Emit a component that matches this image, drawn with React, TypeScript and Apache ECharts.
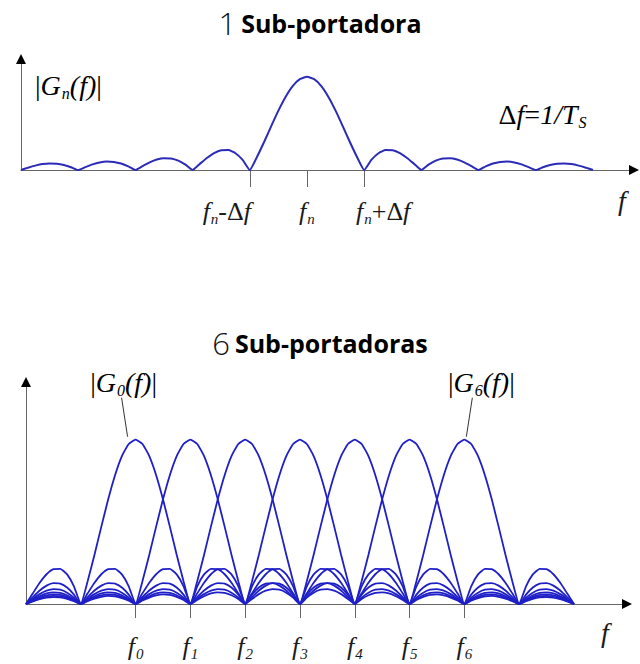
import { useEffect, useRef } from 'react';
import * as echarts from 'echarts';

// |sin(pi x)/(pi x)| magnitude of one sub-carrier pulse, sampled every PULSE_STEP (in units of Δf),
// from the centre (x = 0) out to the 8th null (x = 8).
const PULSE_STEP = 0.125;
const pulseMagnitude = [
  1, 0.974, 0.9, 0.784, 0.637, 0.471, 0.3, 0.139,
  0, 0.108, 0.18, 0.214, 0.212, 0.181, 0.129, 0.065,
  0, 0.057, 0.1, 0.124, 0.127, 0.112, 0.082, 0.042,
  0, 0.039, 0.069, 0.087, 0.091, 0.081, 0.06, 0.031,
  0, 0.03, 0.053, 0.067, 0.071, 0.064, 0.047, 0.025,
  0, 0.024, 0.043, 0.055, 0.058, 0.052, 0.039, 0.021,
  0, 0.02, 0.036, 0.046, 0.049, 0.044, 0.033, 0.018,
  0, 0.017, 0.031, 0.04, 0.042, 0.039, 0.029, 0.016,
  0,
];

// Single sub-carrier panel (frequency in units of Δf around f_n)
const singleSpan = [-5, 5];
const singleAxisMax = 5.7;
const singleAmpMax = 1.18;
const singleTicks = [-1, 0, 1];

// Multi sub-carrier panel (frequency in units of Δf from f_0)
const subcarriers = [0, 1, 2, 3, 4, 5, 6];
const multiSpan = [-2, 8];
const multiAxisMax = 8.95;
const multiAmpMax = 1.345;

const SERIF = '"Liberation Serif", "Times New Roman", serif';
const SANS = '"Open Sans", "Noto Sans", sans-serif';
const INK = '#1a1a1a';
const AXIS = '#666';
const TOP_CURVE = '#2b2bb8';
const MULTI_CURVE = '#1f1fc8';

function pulse(center: number, lo: number, hi: number): number[][] {
  const pts: number[][] = [];
  const n = pulseMagnitude.length - 1;
  for (let i = -n; i <= n; i++) {
    const f = center + i * PULSE_STEP;
    if (f < lo - 1e-9 || f > hi + 1e-9) continue;
    pts.push([f, pulseMagnitude[Math.abs(i)]]);
  }
  return pts;
}

function mathRich(size: number) {
  const sub = Math.round(size * 0.58);
  return {
    i: { fontFamily: SERIF, fontStyle: 'italic', fontSize: size, lineHeight: size + 4, color: INK },
    u: { fontFamily: SERIF, fontSize: size, lineHeight: size + 4, color: INK },
    s: {
      fontFamily: SERIF, fontStyle: 'italic', fontSize: sub, lineHeight: sub + 1,
      verticalAlign: 'bottom', color: INK, padding: [0, 0, 0, 1],
    },
    gl: { width: 46, fontSize: 4 },
    gr: { width: 38, fontSize: 4 },
  };
}

const singleTickText: Record<string, string> = {
  '-1': '{i|f}{s|n}{u|-Δ}{i|f}{gl| }',
  '0': '{i|f}{s|n}',
  '1': '{gr| }{i|f}{s|n}{u|+Δ}{i|f}',
};

const titleRich = {
  n: { fontFamily: SANS, fontWeight: 300, fontSize: 31, color: '#111' },
  b: { fontFamily: SANS, fontWeight: 'bold', fontSize: 25, color: '#000' },
};

const plainLine = { show: true, onZero: false, lineStyle: { color: AXIS, width: 1 } };

// Filled arrow head; (x, y) is where the axis line ends, dir 'x' points right, 'y' points up
function arrowHead(p: number[], dir: 'x' | 'y') {
  const [x, y] = p;
  const points = dir === 'x'
    ? [[x - 4, y - 5], [x + 6, y], [x - 4, y + 5]]
    : [[x - 5, y + 4], [x, y - 6], [x + 5, y + 4]];
  return { type: 'polygon', shape: { points }, style: { fill: '#000' }, z: 10 };
}

export default function App() {
  const ref = useRef<HTMLDivElement>(null);

  useEffect(() => {
    if (!ref.current) return;
    const chart = echarts.init(ref.current, null, { renderer: 'svg' });

    const multiSeries = subcarriers.map((k) => ({
      type: 'line',
      name: `G${k}`,
      xAxisIndex: 1,
      yAxisIndex: 1,
      data: pulse(k, multiSpan[0], multiSpan[1]),
      showSymbol: false,
      smooth: 0.15,
      lineStyle: { color: MULTI_CURVE, width: 1.8 },
      z: 3,
    }));

    chart.setOption({
      animation: false,
      backgroundColor: '#fff',
      title: [
        { text: '{n|1} {b|Sub-portadora}', left: 'center', top: 2, textStyle: { rich: titleRich } },
        { text: '{n|6} {b|Sub-portadoras}', left: 'center', top: 322, textStyle: { rich: titleRich } },
      ],
      grid: [
        { left: 21, top: 60, width: 612, height: 110, outerBoundsMode: 'none' },
        { left: 26, top: 383, width: 600, height: 221, outerBoundsMode: 'none' },
      ],
      xAxis: [
        {
          type: 'value', gridIndex: 0, min: -5, max: singleAxisMax,
          axisLine: plainLine,
          axisTick: { show: true, customValues: singleTicks, length: 17, lineStyle: { color: AXIS } },
          axisLabel: {
            show: true, customValues: singleTicks, margin: 26,
            formatter: (v: number) => singleTickText[String(v)] ?? '',
            rich: mathRich(26),
          },
          splitLine: { show: false },
        },
        {
          type: 'value', gridIndex: 1, min: -2, max: multiAxisMax,
          axisLine: plainLine,
          axisTick: { show: true, customValues: subcarriers, length: 14, lineStyle: { color: AXIS } },
          axisLabel: {
            show: true, customValues: subcarriers, margin: 27,
            formatter: (v: number) => `{i|f}{s|${v}}`,
            rich: mathRich(26),
          },
          splitLine: { show: false },
        },
      ],
      yAxis: [
        {
          type: 'value', gridIndex: 0, min: 0, max: singleAmpMax,
          axisLine: plainLine, axisTick: { show: false }, axisLabel: { show: false },
          splitLine: { show: false },
        },
        {
          type: 'value', gridIndex: 1, min: 0, max: multiAmpMax,
          axisLine: plainLine, axisTick: { show: false }, axisLabel: { show: false },
          splitLine: { show: false },
        },
      ],
      series: [
        {
          type: 'line',
          name: 'Gn',
          xAxisIndex: 0,
          yAxisIndex: 0,
          data: pulse(0, singleSpan[0], singleSpan[1]),
          showSymbol: false,
          smooth: 0.15,
          lineStyle: { color: TOP_CURVE, width: 2 },
          z: 3,
        },
        ...multiSeries,
      ],
    });

    // Annotations anchored to the curves and axes through the axes' own scales
    const px = (grid: number, v: number[]) => chart.convertToPixel({ gridIndex: grid }, v) as number[];
    const gnOrigin = px(0, [-5, 1]);
    const dfAnchor = px(0, [3.35, 0.6]);
    const topXEnd = px(0, [singleAxisMax, 0]);
    const topYEnd = px(0, [-5, singleAmpMax]);
    const bottomXEnd = px(1, [multiAxisMax, 0]);
    const bottomYEnd = px(1, [-2, multiAmpMax]);
    const g0Peak = px(1, [subcarriers[0], 1]);
    const g6Peak = px(1, [subcarriers[subcarriers.length - 1], 1]);
    const labelRich = mathRich(28);
    const axisNameStyle = {
      text: 'f', fontFamily: SERIF, fontStyle: 'italic', fontSize: 28, fill: INK,
      align: 'center', verticalAlign: 'middle',
    };

    chart.setOption({
      graphic: [
        arrowHead(topXEnd, 'x'),
        arrowHead(topYEnd, 'y'),
        arrowHead(bottomXEnd, 'x'),
        arrowHead(bottomYEnd, 'y'),
        {
          type: 'text', x: gnOrigin[0] + 14, y: gnOrigin[1] + 9,
          style: { text: '{u||}{i|G}{s|n}{i|(f)}{u||}', rich: labelRich, verticalAlign: 'middle' },
        },
        {
          type: 'text', x: dfAnchor[0], y: dfAnchor[1],
          style: { text: '{u|Δ}{i|f}{u|=}{i|1/T}{s|S}', rich: mathRich(28), verticalAlign: 'middle' },
        },
        { type: 'text', x: topXEnd[0] - 11, y: topXEnd[1] + 30, style: axisNameStyle },
        { type: 'text', x: bottomXEnd[0] - 21, y: bottomXEnd[1] + 28, style: axisNameStyle },
        {
          type: 'text', x: g0Peak[0] - 12, y: g0Peak[1] - 57,
          style: { text: '{u||}{i|G}{s|0}{i|(f)}{u||}', rich: labelRich, align: 'center', verticalAlign: 'middle' },
        },
        {
          type: 'line',
          shape: { x1: g0Peak[0] - 14, y1: g0Peak[1] - 42, x2: g0Peak[0] - 8, y2: g0Peak[1] - 3 },
          style: { stroke: '#333', lineWidth: 1 },
        },
        {
          type: 'text', x: g6Peak[0] + 17, y: g6Peak[1] - 57,
          style: { text: '{u||}{i|G}{s|6}{i|(f)}{u||}', rich: labelRich, align: 'center', verticalAlign: 'middle' },
        },
        {
          type: 'line',
          shape: { x1: g6Peak[0] + 8, y1: g6Peak[1] - 42, x2: g6Peak[0] + 2, y2: g6Peak[1] - 3 },
          style: { stroke: '#333', lineWidth: 1 },
        },
      ],
    });

    return () => chart.dispose();
  }, []);

  return (
    <div
      ref={ref}
      style={{ position: 'fixed', left: 0, top: 0, width: 640, height: 664, background: '#fff' }}
    />
  );
}
